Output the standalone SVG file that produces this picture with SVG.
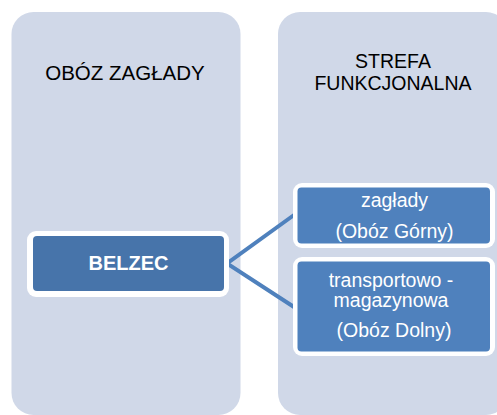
<svg xmlns="http://www.w3.org/2000/svg" width="497" height="415" viewBox="0 0 497 415">
<style>
.panel{fill:#d0d8e8}
.frame{fill:#ffffff}
.box{fill:#4f81bd}
.main{fill:#4774aa}
.hdr{font-family:"Liberation Sans",Arial,sans-serif;font-size:20.5px;fill:#000000;text-anchor:middle}
.hdr2{font-size:19.5px}
.lbl{font-family:"Liberation Sans",Arial,sans-serif;font-size:19.5px;fill:#ffffff;text-anchor:middle}
.bold{font-weight:bold;font-size:20px}
.conn{fill:none;stroke:#4f81bd;stroke-width:4}
</style>
<rect width="497" height="415" fill="#ffffff"/>
<g id="panel-left">
<rect class="panel" x="11.5" y="12" width="229" height="403" rx="22"/>
<text class="hdr" x="125" y="80">OBÓZ ZAGŁADY</text>
</g>
<g id="panel-right">
<rect class="panel" x="278" y="12" width="230" height="403" rx="22"/>
<text class="hdr hdr2" x="393" y="67.5">STREFA</text>
<text class="hdr hdr2" x="393" y="89.5">FUNKCJONALNA</text>
</g>
<g id="connectors">
<polyline class="conn" points="294,215 227,263.5 294,307"/>
</g>
<g id="node-belzec">
<rect class="frame" x="27" y="231" width="202" height="66" rx="9"/>
<rect class="main" x="33" y="236" width="191" height="55" rx="4"/>
<text class="lbl bold" x="128.5" y="270">BELZEC</text>
</g>
<g id="node-zaglady">
<rect class="frame" x="293" y="183" width="202" height="65" rx="9"/>
<rect class="box" x="297.5" y="187.5" width="192.5" height="56" rx="4"/>
<text class="lbl" x="394.5" y="207">zagłady</text>
<text class="lbl" x="394.5" y="238">(Obóz Górny)</text>
</g>
<g id="node-transport">
<rect class="frame" x="293" y="257" width="202" height="99" rx="9"/>
<rect class="box" x="297.5" y="261.5" width="192.5" height="90" rx="4"/>
<text class="lbl" x="391" y="287">transportowo -</text>
<text class="lbl" x="391" y="307">magazynowa</text>
<text class="lbl" x="394" y="337">(Obóz Dolny)</text>
</g>
</svg>
